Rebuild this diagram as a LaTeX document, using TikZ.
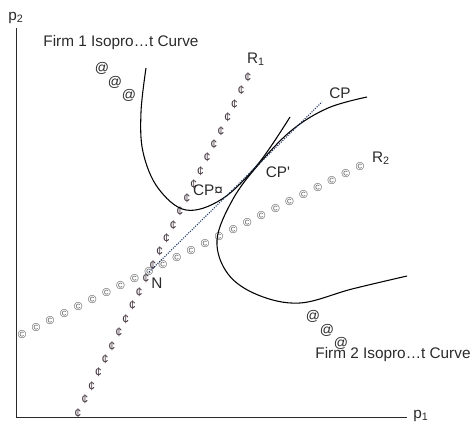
\documentclass[tikz,border=0pt]{standalone}
\usepackage{fontspec}
\setmainfont{Liberation Sans}
\usepackage{xcolor}
\usepackage{tikz}
\tikzset{lbl/.style={inner sep=0pt,textgray,font=\fontsize{11.5}{13}\selectfont},
cent/.style={inner sep=0pt,centgray,font=\fontsize{9.5}{10}\selectfont},
copy/.style={inner sep=0pt,copygray,font=\fontsize{8.5}{10}\selectfont},
atmark/.style={inner sep=0pt,textgray,font=\fontsize{10.5}{11}\selectfont},
isocurve/.style={thick,black},
cpline/.style={densely dotted,thick,navydot}}
\definecolor{textgray}{HTML}{2A2A2A}
\definecolor{centgray}{HTML}{4A3C45}
\definecolor{copygray}{HTML}{555555}
\definecolor{navydot}{HTML}{1E3462}

\begin{document}
\begin{tikzpicture}[x=0.75pt,y=-0.75pt]
\useasboundingbox (0,0) rectangle (473,425);
% axes
\coordinate (o) at (16,417);
\coordinate (ytop) at (16,28);
\coordinate (xend) at (407,417);
\draw[textgray] (ytop) -- (o) -- (xend);
\node[lbl] (ptwo) at (16,18) {p\textsubscript{2}};
\node[lbl] (pone) at (421,416) {p\textsubscript{1}};
% reaction functions
\coordinate (r1lo) at (78,413); \coordinate (r1hi) at (248,77);
\coordinate (r2lo) at (22,335); \coordinate (r2hi) at (360,167);
\foreach \i in {0,...,25} {\path (r1lo) -- (r1hi) node[cent,pos=\i/25] (c\i) {¢};}
\foreach \i in {0,...,24} {\path (r2lo) -- (r2hi) node[copy,pos=\i/24] (k\i) {©};}
\node[lbl] (rone) at (256,59) {R\textsubscript{1}};
\node[lbl] (rtwo) at (381,158) {R\textsubscript{2}};
% isoprofit curves
\draw[isocurve] plot[smooth,tension=.6] coordinates {(146,68) (141,112) (143,152) (158,188) (186,210) (222,199) (258,164) (290,117)};
\draw[isocurve] plot[smooth,tension=.6] coordinates {(367,97) (328,108) (292,130) (259,164) (233,199) (217,240) (228,274) (258,295) (300,303) (352,289) (407,276)};
% collusion line
\coordinate (nash) at (149,272);
\coordinate (cptop) at (322,102);
\draw[cpline] (nash) -- (cptop);
\node[lbl] (cp) at (340,93) {CP};
\node[lbl] (cpone) at (278,172) {CP\textquotesingle};
\node[lbl] (cptwo) at (208,190) {CP¤};
\node[lbl] (n) at (157,283) {N};
% firm labels
\node[lbl] (fone) at (121,43) {Firm 1 Isopro…t Curve};
\node[lbl] (ftwo) at (393,355) {Firm 2 Isopro…t Curve};
\foreach \x/\y [count=\j] in {102/68,115/82,129/95} {\node[atmark] (a\j) at (\x,\y) {@};}
\foreach \x/\y [count=\j] in {313/316,327/330,341/343} {\node[atmark] (b\j) at (\x,\y) {@};}
\end{tikzpicture}
\end{document}
